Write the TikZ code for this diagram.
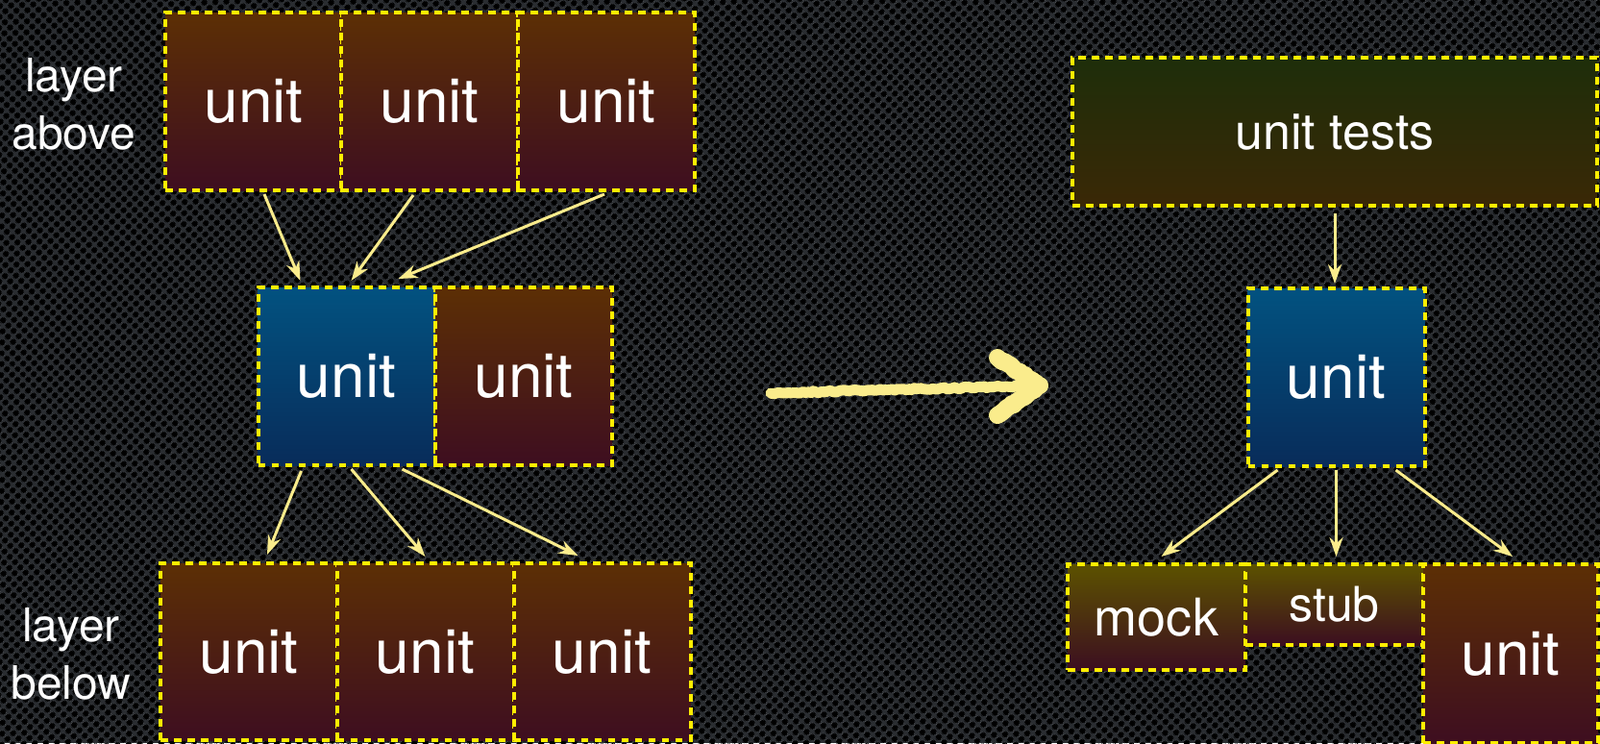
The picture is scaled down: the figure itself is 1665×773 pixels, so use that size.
\documentclass[tikz,border=0pt]{standalone}
\usepackage{fontspec}
\setmainfont{TeX Gyre Heros}
\usetikzlibrary{calc,positioning,arrows.meta,patterns.meta,decorations.pathmorphing}

\definecolor{bgdark}{RGB}{42,45,49}
\definecolor{brownTop}{RGB}{92,47,5}
\definecolor{brownBot}{RGB}{62,14,32}
\definecolor{blueTop}{RGB}{2,82,128}
\definecolor{blueBot}{RGB}{8,44,90}
\definecolor{testTop}{RGB}{30,46,10}
\definecolor{testBot}{RGB}{58,40,6}
\definecolor{fakeTop}{RGB}{92,82,0}
\definecolor{fakeBot}{RGB}{60,14,32}
\definecolor{boxedge}{RGB}{255,238,0}
\definecolor{linkcol}{RGB}{250,236,140}

\begin{document}
\begin{tikzpicture}[x=0.5pt,y=-0.5pt,
    box/.style={rectangle, inner sep=0pt, draw=boxedge, dash pattern=on 3.8pt off 3.2pt,
                line width=2pt, text=white},
    brownbox/.style={box, top color=brownTop, bottom color=brownBot},
    bluebox/.style={box, top color=blueTop, bottom color=blueBot},
    fakebox/.style={box, top color=fakeTop, bottom color=fakeBot},
    bigunit/.style={minimum width=92pt, minimum height=92.5pt, font=\fontsize{32}{38}\selectfont},
    layerlabel/.style={align=center, text=white, font=\fontsize{24}{30}\selectfont},
    link/.style={draw=linkcol, line width=1.5pt, -{Stealth[length=10pt,width=7pt]}},
    chalk/.style={draw=linkcol, line cap=round, line join=round,
                  decorate, decoration={random steps, segment length=1.5pt, amplitude=0.5pt}}]

    % Background
    \useasboundingbox (0,0) rectangle (1665,773);
    \fill[bgdark] (0,0) rectangle (1665,773);
    \fill[pattern={Dots[distance=4pt, radius=1.7pt, angle=45]}, pattern color=black] (0,0) rectangle (1665,773);

    % Left side: layered units
    \node[layerlabel] (above) at (77,108) {layer\\above};
    \node[layerlabel] (below) at (74,680) {layer\\below};

    \foreach \x/\n in {264/1,447/2,631/3} {
        \node[brownbox, bigunit] (ta\n) at (\x,105.5) {unit};
    }
    \node[bluebox, bigunit] (mu) at (360.5,391.5) {unit};
    \node[brownbox, bigunit] (mb) at (545,391.5) {unit};
    \foreach \x/\n in {259/1,442.5/2,626.5/3} {
        \node[brownbox, bigunit, minimum height=92pt] (bl\n) at (\x,678) {unit};
    }

    % Dependencies
    \draw[link] ($(ta1.south)+(11,2)$) -- ($(mu.north)+(-48,-5)$);
    \draw[link] ($(ta2.south)+(-17,3)$) -- ($(mu.north)+(5,-5)$);
    \draw[link] ($(ta3.south)+(-2,2)$) -- ($(mu.north)+(54,-7)$);
    \draw[link] ($(mu.south)+(-47,4)$) -- ($(bl1.north)+(19,-7)$);
    \draw[link] ($(mu.south)+(5,2)$) -- ($(bl2.north)+(0,-5)$);
    \draw[link] ($(mu.south)+(58,2)$) -- ($(bl3.north)+(-25,-6)$);

    % Sketchy arrow
    \coordinate (s1) at (802,409);
    \coordinate (s2) at (1082,401);
    \coordinate (h1) at (1038,372);
    \coordinate (h2) at (1038,432);
    \draw[chalk, line width=5.5pt] (s1) -- (s2);
    \draw[chalk, line width=9pt] (h1) -- (s2) -- (h2);

    % Right side: unit under test
    \node[box, top color=testTop, bottom color=testBot, minimum width=273pt, minimum height=77pt,
          font=\fontsize{26}{32}\selectfont] (tests) at (1389,137) {unit tests};
    \node[bluebox, bigunit] (ru) at (1390.5,392.5) {unit};
    \node[fakebox, minimum width=92.5pt, minimum height=55pt,
          font=\fontsize{27}{32}\selectfont] (mock) at (1203.5,642) {mock};
    \node[fakebox, minimum width=92.5pt, minimum height=42pt,
          font=\fontsize{25}{30}\selectfont] (stub) at (1388.5,629) {stub};
    \node[brownbox, bigunit, minimum width=91pt, minimum height=93pt] (runit) at (1572,680) {unit};

    \draw[link] ($(tests.south)+(0,6)$) -- ($(ru.north)+(-1.5,-3)$);
    \draw[link] ($(ru.south)+(-61,2)$) -- ($(mock.north)+(5,-6)$);
    \draw[link] ($(ru.south)+(0,2)$) -- ($(stub.north)+(2,-6)$);
    \draw[link] ($(ru.south)+(62,2)$) -- ($(runit.north)+(2,-6)$);
\end{tikzpicture}
\end{document}
